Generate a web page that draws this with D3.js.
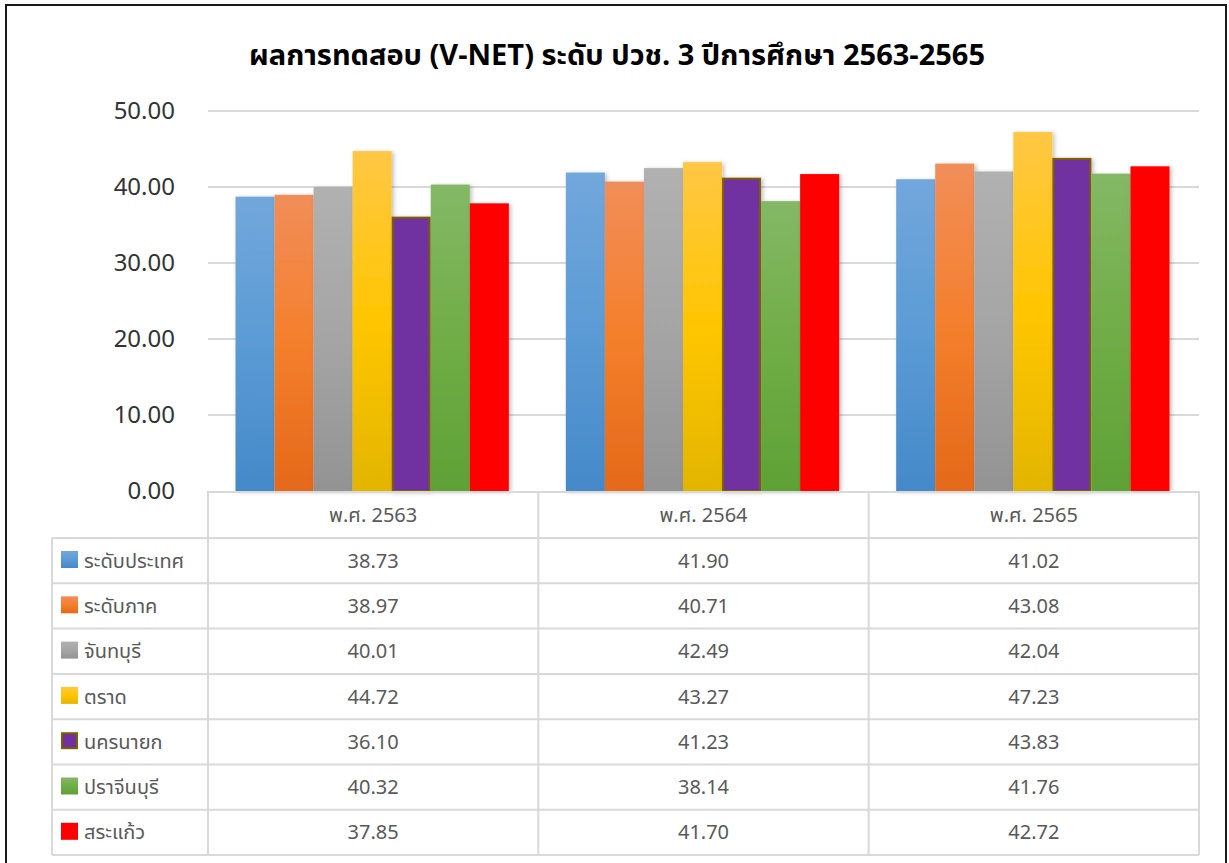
<!DOCTYPE html>
<html>
<head>
<meta charset="utf-8">
<script src="https://cdn.jsdelivr.net/npm/d3@7"></script>
<style>
  body { margin: 0; background: #fff; }
  text { font-family: "Noto Sans Thai", "Noto Sans", "DejaVu Sans", sans-serif; }
</style>
</head>
<body>
<div id="chart"></div>
<script>
// ข้อมูลกราฟ
const years = ['พ.ศ. 2563', 'พ.ศ. 2564', 'พ.ศ. 2565'];
const seriesNames = ['ระดับประเทศ', 'ระดับภาค', 'จันทบุรี', 'ตราด', 'นครนายก', 'ปราจีนบุรี', 'สระแก้ว'];
const national = [38.73, 41.90, 41.02];
const regional = [38.97, 40.71, 43.08];
const chanthaburi = [40.01, 42.49, 42.04];
const trat = [44.72, 43.27, 47.23];
const nakhonNayok = [36.10, 41.23, 43.83];
const prachinburi = [40.32, 38.14, 41.76];
const sakaeo = [37.85, 41.70, 42.72];
const yTicks = [0, 10, 20, 30, 40, 50];
const titleText = 'ผลการทดสอบ (V-NET) ระดับ ปวช. 3 ปีการศึกษา 2563-2565';

const seriesValues = [national, regional, chanthaburi, trat, nakhonNayok, prachinburi, sakaeo];

// สีแต่ละชุด (บน, กลาง, ล่าง)
const fills = [
  ['#72a7dc', '#5b9bd5', '#4589c9'],
  ['#f18e59', '#f47f2c', '#e4691a'],
  ['#b1b1b1', '#a5a5a5', '#939393'],
  ['#ffc745', '#ffc600', '#e3b500'],
  ['#7030a0', '#7030a0', '#7030a0'],
  ['#84b866', '#70ad47', '#5fa136'],
  ['#ff0000', '#ff0000', '#ff0000']
];
const strokes = [null, null, null, null, '#7f6000', null, null];

const width = 1229, height = 863;
const plot = { left: 208, right: 1199, top: 111, bottom: 491 };
const rowH = 45.3;
const headerBottom = 538;
const legendLeft = 52;

const svg = d3.select('#chart').append('svg')
  .attr('width', width)
  .attr('height', height);

const defs = svg.append('defs');

fills.forEach((c, i) => {
  const g = defs.append('linearGradient')
    .attr('id', `grad-${i}`)
    .attr('x1', 0).attr('y1', 0).attr('x2', 0).attr('y2', 1);
  g.append('stop').attr('offset', '0%').attr('stop-color', c[0]);
  g.append('stop').attr('offset', '50%').attr('stop-color', c[1]);
  g.append('stop').attr('offset', '100%').attr('stop-color', c[2]);
});

const shadow = defs.append('filter')
  .attr('id', 'shadow')
  .attr('x', '-20%').attr('y', '-5%').attr('width', '150%').attr('height', '115%');
shadow.append('feDropShadow')
  .attr('dx', 2).attr('dy', 1)
  .attr('stdDeviation', 2)
  .attr('flood-color', '#000')
  .attr('flood-opacity', 0.25);

// กรอบนอก
svg.append('rect')
  .attr('x', 6).attr('y', 5)
  .attr('width', 1220).attr('height', 870)
  .attr('fill', '#fff')
  .attr('stroke', '#1a1a1a')
  .attr('stroke-width', 2);

// ชื่อกราฟ
svg.append('text')
  .attr('x', 617)
  .attr('y', 65)
  .attr('text-anchor', 'middle')
  .style('font-size', '29px')
  .style('font-weight', 'bold')
  .style('fill', '#000')
  .text(titleText);

// สเกล
const y = d3.scaleLinear().domain([0, 50]).range([plot.bottom, plot.top]);
const x0 = d3.scaleBand().domain(years).range([plot.left, plot.right]).padding(0);
const x1 = d3.scaleBand().domain(seriesNames)
  .range([27.5, x0.bandwidth() - 29.5]).padding(0);

// เส้นกริด
svg.append('g')
  .selectAll('line')
  .data(yTicks.filter(d => d > 0))
  .enter()
  .append('line')
  .attr('x1', plot.left).attr('x2', plot.right)
  .attr('y1', d => y(d)).attr('y2', d => y(d))
  .attr('stroke', '#d9d9d9')
  .attr('stroke-width', 2);

// แกน Y
const yAxis = svg.append('g')
  .attr('transform', `translate(${plot.left},0)`)
  .call(d3.axisLeft(y).tickValues(yTicks).tickFormat(d3.format('.2f')).tickSize(0).tickPadding(33));
yAxis.select('.domain').remove();
yAxis.selectAll('text')
  .style('font-size', '24px')
  .style('fill', '#333')
  .style('font-family', '"Noto Sans Thai", "Noto Sans", "DejaVu Sans", sans-serif');

// แท่ง
const groups = svg.append('g')
  .selectAll('g')
  .data(years)
  .enter()
  .append('g')
  .attr('transform', d => `translate(${x0(d)},0)`);

groups.selectAll('rect')
  .data((d, yi) => seriesNames.map((s, si) => ({ s, si, v: seriesValues[si][yi] })))
  .enter()
  .append('rect')
  .attr('x', d => x1(d.s) + (strokes[d.si] ? 1 : 0))
  .attr('y', d => y(d.v) + (strokes[d.si] ? 1 : 0))
  .attr('width', d => x1.bandwidth() - (strokes[d.si] ? 2 : 0))
  .attr('height', d => y(0) - y(d.v) - (strokes[d.si] ? 1 : 0))
  .attr('fill', d => `url(#grad-${d.si})`)
  .attr('stroke', d => strokes[d.si] || 'none')
  .attr('stroke-width', 2)
  .attr('filter', 'url(#shadow)');

// ตารางข้อมูล
const grid = svg.append('g').attr('stroke', '#d9d9d9').attr('stroke-width', 2);
const tableBottom = headerBottom + rowH * seriesNames.length;

grid.append('line')
  .attr('x1', plot.left).attr('x2', plot.right)
  .attr('y1', plot.bottom + 1).attr('y2', plot.bottom + 1);

d3.range(seriesNames.length + 1).forEach(i => {
  grid.append('line')
    .attr('x1', legendLeft).attr('x2', plot.right)
    .attr('y1', headerBottom + i * rowH).attr('y2', headerBottom + i * rowH);
});

years.forEach(yr => {
  grid.append('line')
    .attr('x1', x0(yr)).attr('x2', x0(yr))
    .attr('y1', plot.bottom).attr('y2', tableBottom);
});
grid.append('line')
  .attr('x1', plot.right).attr('x2', plot.right)
  .attr('y1', plot.bottom).attr('y2', tableBottom);
grid.append('line')
  .attr('x1', legendLeft).attr('x2', legendLeft)
  .attr('y1', headerBottom).attr('y2', tableBottom);

// หัวคอลัมน์
svg.append('g')
  .selectAll('text')
  .data(years)
  .enter()
  .append('text')
  .attr('x', d => x0(d) + x0.bandwidth() / 2)
  .attr('y', (plot.bottom + headerBottom) / 2 + 7)
  .attr('text-anchor', 'middle')
  .style('font-size', '20px')
  .style('fill', '#595959')
  .text(d => d);

// ค่าในตาราง
seriesNames.forEach((s, si) => {
  const rowY = headerBottom + rowH * si + rowH / 2 + 7;
  svg.append('g')
    .selectAll('text')
    .data(seriesValues[si])
    .enter()
    .append('text')
    .attr('x', (d, i) => x0(years[i]) + x0.bandwidth() / 2)
    .attr('y', rowY)
    .attr('text-anchor', 'middle')
    .style('font-size', '20px')
    .style('fill', '#595959')
    .text(d => d.toFixed(2));

  // คำอธิบายสัญลักษณ์
  svg.append('rect')
    .attr('x', 61 + (strokes[si] ? 1 : 0))
    .attr('y', headerBottom + rowH * si + 13 + (strokes[si] ? 1 : 0))
    .attr('width', 17 - (strokes[si] ? 2 : 0))
    .attr('height', 17 - (strokes[si] ? 2 : 0))
    .attr('fill', `url(#grad-${si})`)
    .attr('stroke', strokes[si] || 'none')
    .attr('stroke-width', 2);

  svg.append('text')
    .attr('x', 84)
    .attr('y', rowY)
    .style('font-size', '20px')
    .style('fill', '#595959')
    .text(s);
});
</script>
</body>
</html>
